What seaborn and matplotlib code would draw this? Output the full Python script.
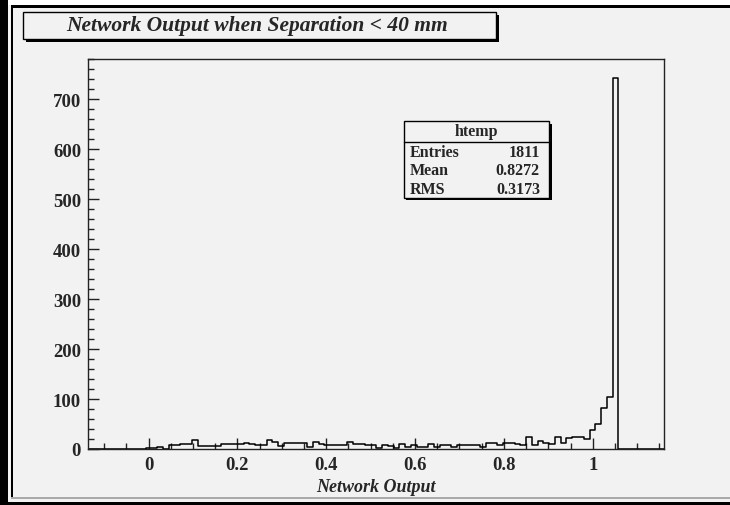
import numpy as np
import pandas as pd
import seaborn as sns
import matplotlib
matplotlib.use("Agg")
import matplotlib.pyplot as plt
from matplotlib.patches import Rectangle
from matplotlib.ticker import MultipleLocator, FuncFormatter

# ---------------- data ----------------
x_min, x_max, n_bins = -0.1363, 1.1615, 100
counts = [
    0, 0, 0, 0, 0, 0, 0, 0, 1, 1,
    3, 3, 5, 1, 8, 9, 11, 11, 18, 6,
    7, 6, 6, 11, 11, 11, 10, 13, 10, 8,
    8, 18, 15, 7, 13, 13, 13, 13, 5, 15,
    10, 8, 8, 9, 9, 15, 10, 10, 8, 8,
    3, 9, 7, 3, 11, 5, 8, 5, 5, 11,
    5, 9, 9, 5, 9, 9, 9, 9, 5, 13,
    13, 8, 13, 12, 10, 9, 25, 9, 17, 12,
    10, 25, 12, 22, 25, 25, 20, 38, 50, 83,
    105, 743, 0, 0, 0, 0, 0, 0, 0, 0,
]
title = "Network Output when Separation < 40 mm"
x_label = "Network Output"
stats_name = "htemp"
stats_rows = [("Entries", "1811"), ("Mean", "0.8272"), ("RMS", "0.3173")]
y_top = 781

edges = [float(e) for e in np.linspace(x_min, x_max, n_bins + 1)]
centers = [0.5 * (edges[i] + edges[i + 1]) for i in range(n_bins)]
df = pd.DataFrame({"output": centers, "count": [float(c) for c in counts]})

# ---------------- style ----------------
sns.set_theme(style="white")
bg = "#f2f2f2"
plt.rcParams["font.family"] = ["Liberation Serif", "DejaVu Serif"]

W, H = 730, 506
fig = plt.figure(figsize=(W / 100, H / 100), dpi=100, facecolor=bg)


def fx(px):
    return px / W


def fy(py):
    return 1 - py / H


ax = fig.add_axes([fx(88), fy(450), fx(664.5) - fx(88), fy(60) - fy(450)])
ax.set_facecolor(bg)

sns.histplot(data=df, x="output", weights="count", bins=edges, element="step",
             fill=False, color="black", linewidth=1.1, ax=ax)

ax.set_xlim(x_min, x_max)
ax.set_ylim(0, y_top)
ax.set_ylabel("")
ax.set_xlabel(x_label, fontsize=13, fontweight="bold", fontstyle="italic",
              labelpad=4)
for s in ax.spines.values():
    s.set_color("#222222")
    s.set_linewidth(1.0)
    s.set_visible(True)

ax.xaxis.set_major_locator(MultipleLocator(0.2))
ax.xaxis.set_minor_locator(MultipleLocator(0.05))
ax.yaxis.set_major_locator(MultipleLocator(100))
ax.yaxis.set_minor_locator(MultipleLocator(20))
ax.xaxis.set_major_formatter(FuncFormatter(lambda v, p: "%g" % round(v, 3)))
ax.tick_params(which="major", direction="in", length=8, width=1, color="#222222",
               labelsize=13.5, pad=5, bottom=True, left=True, top=False, right=False)
ax.tick_params(which="minor", direction="in", length=4.3, width=1, color="#222222",
               bottom=True, left=True, top=False, right=False)
for lab in ax.get_xticklabels() + ax.get_yticklabels():
    lab.set_fontweight("bold")

# ---------------- canvas frame ----------------
def frect(x0, y0, x1, y1, fc, ec="none", lw=0, z=0):
    r = Rectangle((fx(x0), fy(y1)), fx(x1) - fx(x0), fy(y0) - fy(y1),
                  transform=fig.transFigure, facecolor=fc, edgecolor=ec,
                  linewidth=lw, zorder=z)
    fig.patches.append(r)

frect(0, 0, 8, H, "black")
frect(0, 0, W, 1.2, "#777777")
frect(8, 1.2, W, 5.5, "white")
frect(11, 5.5, 13, 498, "black")
frect(11, 5.5, W, 8.5, "black")
frect(11, 498, W, 500, "#aaaaaa")
frect(0, 503, W, H, "black")

# title box with shadow
frect(26, 16, 499, 43, "black", z=1)
frect(23, 13, 496, 40, bg, ec="black", lw=1.0, z=2)
fig.text(fx(257), fy(26.5), title, ha="center", va="center", fontsize=15.5,
         fontweight="bold", fontstyle="italic", zorder=3)

# stats box with shadow
frect(406.5, 124.5, 552, 201, "black", z=1)
frect(403.5, 121.5, 549, 198.5, bg, ec="black", lw=1.0, z=2)
fig.lines.append(plt.Line2D([fx(403.5), fx(549)], [fy(143.3), fy(143.3)],
                            transform=fig.transFigure, color="black", lw=1.0, zorder=3))
fig.text(fx(476.5), fy(132.5), stats_name, ha="center", va="center",
         fontsize=11.5, fontweight="bold", zorder=3)
row_y = [153, 171.5, 190]
for (lab, val), yy in zip(stats_rows, row_y):
    fig.text(fx(410), fy(yy), lab, ha="left", va="center", fontsize=11.5,
             fontweight="bold", zorder=3)
    fig.text(fx(540), fy(yy), val, ha="right", va="center", fontsize=11.5,
             fontweight="bold", zorder=3)

fig.savefig("out.png", dpi=100, facecolor=bg)
